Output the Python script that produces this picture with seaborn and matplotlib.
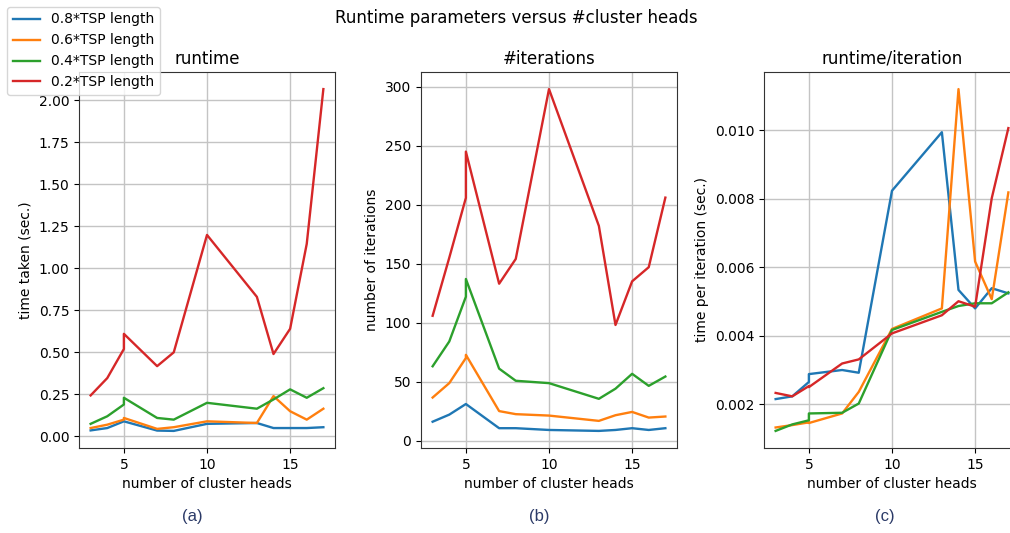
import numpy as np
import pandas as pd
import matplotlib
matplotlib.use("Agg")
import matplotlib.pyplot as plt
import seaborn as sns

# x values (number of cluster heads); 5 appears twice in the source data
cluster_heads = [3, 4, 5, 5, 7, 8, 10, 13, 14, 15, 16, 17]
series_labels = ["0.8*TSP length", "0.6*TSP length", "0.4*TSP length", "0.2*TSP length"]

runtime_08 = [0.036, 0.050, 0.090, 0.090, 0.035, 0.033, 0.075, 0.080, 0.050, 0.050, 0.050, 0.055]
runtime_06 = [0.050, 0.070, 0.100, 0.110, 0.045, 0.055, 0.090, 0.080, 0.240, 0.150, 0.100, 0.165]
runtime_04 = [0.075, 0.120, 0.190, 0.230, 0.110, 0.100, 0.200, 0.165, 0.220, 0.280, 0.230, 0.287]
runtime_02 = [0.244, 0.347, 0.520, 0.610, 0.418, 0.500, 1.198, 0.830, 0.490, 0.640, 1.145, 2.065]

iters_08 = [16, 22, 31, 31, 10.5, 10.5, 9, 8.2, 9, 10.5, 9, 10.5]
iters_06 = [36.5, 48.7, 70, 72.7, 25, 22.4, 21.2, 16.7, 21.5, 24.3, 19.5, 20.4]
iters_04 = [63, 84, 122, 137, 61, 50.7, 48.7, 35.4, 44, 56.6, 46.4, 54.3]
iters_02 = [105.8, 155, 205.8, 245, 133, 154, 298, 182, 98, 135, 147, 206]

tpi_08 = [0.00215, 0.00223, 0.00265, 0.00288, 0.00300, 0.00292, 0.00824, 0.00995, 0.00534, 0.00480, 0.00539, 0.00524]
tpi_06 = [0.00132, 0.00139, 0.00147, 0.00145, 0.00173, 0.00236, 0.00420, 0.00480, 0.01121, 0.00617, 0.00507, 0.00819]
tpi_04 = [0.00122, 0.00141, 0.00153, 0.00173, 0.00175, 0.00202, 0.00417, 0.00470, 0.00487, 0.00495, 0.00495, 0.00527]
tpi_02 = [0.00233, 0.00223, 0.00253, 0.00250, 0.00319, 0.00331, 0.00407, 0.00460, 0.00501, 0.00485, 0.00802, 0.01007]

panel_titles = ["runtime", "#iterations", "runtime/iteration"]
y_labels = ["time taken (sec.)", "number of iterations", "time per iteration (sec.)"]
x_label = "number of cluster heads"
captions = ["(a)", "(b)", "(c)"]
suptitle = "Runtime parameters versus #cluster heads"

panels = [
    [runtime_08, runtime_06, runtime_04, runtime_02],
    [iters_08, iters_06, iters_04, iters_02],
    [tpi_08, tpi_06, tpi_04, tpi_02],
]

def long_df(values):
    rows = []
    for lab, vals in zip(series_labels, values):
        for i, (x, y) in enumerate(zip(cluster_heads, vals)):
            rows.append({"x": x, "y": y, "series": lab, "order": i})
    return pd.DataFrame(rows)

palette = dict(zip(series_labels, ["#1f77b4", "#ff7f0e", "#2ca02c", "#d62728"]))

fig = plt.figure(figsize=(10.1, 5.33), dpi=100)
fig.patch.set_facecolor("white")

ax_w = 256 / 1010
ax_h = 376 / 533
bottom = (533 - 448) / 533
lefts = [79 / 1010, 421 / 1010, 764 / 1010]
caption_x = [192 / 1010, 539 / 1010, 885 / 1010]

axes = []
for k in range(3):
    ax = fig.add_axes([lefts[k], bottom, ax_w, ax_h])
    df = long_df(panels[k])
    sns.lineplot(data=df, x="x", y="y", hue="series", hue_order=series_labels,
                 palette=palette, estimator=None, sort=False, legend=False,
                 linewidth=1.7, ax=ax)
    ax.grid(True, color="#c4c4c4", linewidth=1.0)
    ax.set_axisbelow(True)
    for sp in ax.spines.values():
        sp.set_color("#333333")
    ax.set_title(panel_titles[k], fontsize=12)
    ax.set_xlabel(x_label, fontsize=10)
    ax.set_ylabel(y_labels[k], fontsize=10)
    ax.set_xticks([5, 10, 15])
    ax.tick_params(labelsize=10)
    ax.margins(x=0.05, y=0.05)
    axes.append(ax)
    fig.text(caption_x[k], (533 - 516) / 533, captions[k],
             ha="center", va="center", fontsize=12, color="#2b3a67",
             family=["Liberation Sans", "DejaVu Sans"])

axes[0].set_yticks([0.0, 0.25, 0.5, 0.75, 1.0, 1.25, 1.5, 1.75, 2.0])
axes[0].set_yticklabels(["0.00", "0.25", "0.50", "0.75", "1.00", "1.25", "1.50", "1.75", "2.00"])
axes[2].set_yticks([0.002, 0.004, 0.006, 0.008, 0.010])
axes[2].set_yticklabels(["0.002", "0.004", "0.006", "0.008", "0.010"])

fig.legend(axes[0].lines[:4], series_labels, loc="upper left",
           bbox_to_anchor=(0.0, 1.0), fontsize=10, framealpha=0.8)
fig.suptitle(suptitle, fontsize=12, x=516 / 1010, y=1 - 18 / 533, va="center")

fig.savefig("out.png", dpi=100)
